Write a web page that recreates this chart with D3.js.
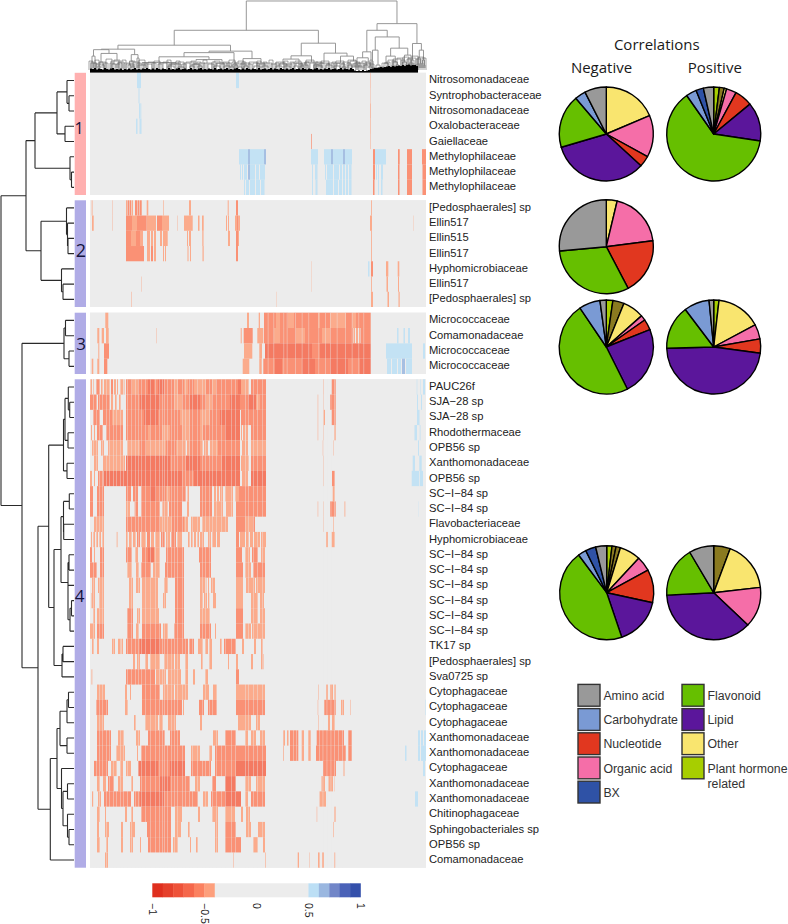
<!DOCTYPE html>
<html><head><meta charset="utf-8">
<script src="https://cdn.jsdelivr.net/npm/d3@7"></script>
<style>html,body{margin:0;background:#fff}svg{display:block}</style>
</head><body><div id="c"></div>
<script>
// correlation levels
const a=-.45,b=-.55,c=-.65,d=-.65,p=.55,q=.65;

const rowLabels1=["Nitrosomonadaceae","Syntrophobacteraceae","Nitrosomonadaceae","Oxalobacteraceae","Gaiellaceae","Methylophilaceae","Methylophilaceae","Methylophilaceae"];
const rowLabels2=["[Pedosphaerales] sp","Ellin517","Ellin515","Ellin517","Hyphomicrobiaceae","Ellin517","[Pedosphaerales] sp"];
const rowLabels3=["Micrococcaceae","Comamonadaceae","Micrococcaceae","Micrococcaceae"];
const rowLabels4=["PAUC26f","SJA\u221228 sp","SJA\u221228 sp","Rhodothermaceae","OPB56 sp","Xanthomonadaceae","OPB56 sp","SC\u2212I\u221284 sp","SC\u2212I\u221284 sp","Flavobacteriaceae","Hyphomicrobiaceae","SC\u2212I\u221284 sp","SC\u2212I\u221284 sp","SC\u2212I\u221284 sp","SC\u2212I\u221284 sp","SC\u2212I\u221284 sp","SC\u2212I\u221284 sp","TK17 sp","[Pedosphaerales] sp","Sva0725 sp","Cytophagaceae","Cytophagaceae","Cytophagaceae","Xanthomonadaceae","Xanthomonadaceae","Cytophagaceae","Xanthomonadaceae","Xanthomonadaceae","Chitinophagaceae","Sphingobacteriales sp","OPB56 sp","Comamonadaceae"];

// each row: runs of columns [from, to, correlation]
const heat1=[
[[47,51,p],[146,149,p],[280,280.5,a]],
[[48.5,49.5,p],[280,280.4,a]],
[[49,50,p],[50.3,51.3,p],[280,280.7,a]],
[[46,47.5,p],[49.5,51.5,p],[280,280.6,a]],
[[221,221.7,b],[280,280.5,a]],
[[149,158,p],[158,160,q],[160,174,p],[174,176,q],[221,228,p],[234,241,p],[241,243,q],[243,253,p],[253,255,q],[255,262,p],[283,285,b],[285,296,p],[308,309.7,b],[317,322,b],[332,336,b]],
[[150,151,p],[152,153,p],[154,157,p],[158,160,q],[160,165,p],[166,169,p],[170,175,p],[222,223,p],[225,227.5,p],[235,236,p],[237,241,p],[241,243,p],[244,249,p],[250,252,p],[253,255,p],[256,258,p],[259,261.5,p],[283,285,b],[286,287,p],[288,289,p],[291,293,p],[308,309.5,b],[317,322,b],[332.5,336,b]],
[[154,155,p],[156,159,p],[160,165,p],[166,170,p],[171,174.5,p],[222,223,p],[225.5,227.5,p],[236,241,p],[241,243,p],[244,248,p],[249,252,p],[253,255,p],[256,258,p],[259,261.5,p],[283,284.5,b],[288,289,p],[291,292.5,p],[308,309.5,b],[317,322,b],[332.5,336,b]]
];
const heat2=[
[[1.7,2.5,a],[22.3,22.7,a],[36,37,a],[37.5,39,b],[39.5,41,b],[41.5,43,a],[45,47,b],[47.5,49,b],[49.5,51.7,b],[56.7,58.3,a],[73,73.6,a],[99,101,a],[137.7,138.7,a],[146,148,b],[281,281.8,a]],
[[2,3.7,a],[22.3,22.7,a],[36,42,b],[42,47,a],[47,56.7,b],[57,66,a],[67,72,b],[72,79,a],[87,87.4,a],[94,102.7,a],[108,109.5,a],[112,113.7,a],[136,137,a],[138,139,a],[145,147,a],[147,148.5,b],[148.5,150,a],[280,282,a],[323,323.3,a]],
[[36,41,b],[41,46,a],[46,50,b],[50,53,a],[57,60,a],[61,63,a],[64,66,a],[70,72,a],[73,77.7,a],[97,98,a],[99,101,a],[112.3,113.5,a],[138,140,a],[146,148,b],[148,149,a],[281,281.8,a]],
[[36,45,b],[45,54,b],[57,60,a],[61,63,b],[64,66,a],[73,74,a],[75,76,a],[97.5,98.5,a],[100,101,a],[112.5,113.7,a],[146,148,b],[281,281.8,a]],
[[278,279.5,.51],[281,283,b],[296,298.3,a],[307.7,309.3,a],[221,221.3,a]],
[[51,51.4,a],[221,221.3,a],[281.2,282,a],[296.5,298,a],[308,309,a]],
[[41,41.5,a],[186,186.3,a],[281,283,a],[297.5,299,a],[308.5,309.7,a]]
];
const heat3=[
[[15.3,18.3,a],[157,159,a],[168.7,170,a],[174,186,b],[186,190,a],[190,198,b],[198,204,a],[204,228,b],[228,230,a],[230,240,b],[240,256,a],[256,262,b],[262,266,a],[266,280.7,b]],
[[7.3,9.3,a],[11.7,14,a],[16,18.7,a],[66,66.4,a],[150.7,151.7,a],[153.7,162.7,b],[167.3,173.3,a],[174,184,b],[184,190,a],[190,206,b],[206,215,a],[215,232,b],[232,240,a],[240,263,b],[263.5,265,a],[266,268,a],[269,270,a],[270.5,280.7,b],[307,308.5,p],[313.5,315,p],[318,320,p]],
[[8.3,9.3,a],[14,19,b],[154,162.3,a],[169.3,172,a],[175,190,c],[190,200,d],[200,212,c],[212,222,c],[222,230,b],[230,245,c],[245,252,d],[252,262,c],[262,268,d],[268,280.7,c],[296,322,p],[333,335,p]],
[[1.7,3.3,a],[7.3,9.3,a],[14,17.3,b],[152.7,159.3,a],[169.3,171.7,a],[173.3,185,b],[185,192,c],[192,212,b],[212,225,c],[225,240,b],[240,258,c],[258,270,b],[270,280.7,c],[297,301,p],[302,307,p],[308,311,p],[312,315,q],[316,322,p]]
];
const heat4=[
[[.5,2,a],[3,4,a],[6,10,b],[11,13,a],[14,20,a],[21,23,b],[24,26,a],[27,28,a],[30,33,a],[33.5,34.5,a],[36,42,b],[42,48,a],[48,52,b],[52,58,b],[58,64,c],[64,68,b],[68,74,c],[74,78,b],[78,84,b],[84,88,a],[88,94,b],[94,98,a],[98,104,b],[104,110,a],[110,116,a],[116,122,b],[122,126,a],[126,132,b],[132,140,b],[140,148,b],[148,151,c],[151,159,a],[161,176,b],[233,233.5,a],[241.7,245.7,b],[326.7,327.3,p],[330,330.5,p],[333,335,p]],
[[0,7,b],[8,20,b],[21,23,a],[25,27,a],[29,31,a],[36,44,b],[44,50,b],[50,70,c],[70,76,b],[76,84,b],[84,92,a],[92,100,b],[100,110,c],[110,116,b],[116,122,a],[122,130,b],[130,140,b],[140,150,c],[150,158,b],[158,166,c],[166,170,a],[170,176,b],[227.7,228.2,a],[233,233.4,a],[240,245.7,b],[327,328,p],[331,332,p]],
[[3,10,b],[13,22,b],[22,33,a],[36,54,b],[54,68,c],[68,80,b],[80,90,b],[90,100,a],[100,110,b],[110,120,a],[120,130,b],[130,150,c],[151,160,b],[160,176,b],[227.7,228.2,a],[233.5,235,a],[241.7,245.7,b],[327,329.5,p]],
[[1,2,a],[4,5,a],[7,13,b],[16,33,b],[36,46,b],[46,58,b],[58,60,a],[60,72,b],[72,80,a],[80,92,b],[92,100,a],[100,110,b],[110,113,a],[113,120,b],[120,135,b],[135,150,c],[151,152,a],[153,155,a],[155.5,158,a],[161,176,b],[227.7,228.2,a],[233,233.4,a],[244,245.7,a],[324.5,327,p],[329.7,330.5,p]],
[[2,8,a],[11,14,a],[18,33,a],[37,50,a],[50,56,b],[56,76,a],[76,86,b],[86,92,a],[92,96,a],[97,100,a],[100,110,b],[110,113,a],[114,118,a],[120,128,a],[128,150,b],[152,155,a],[155.5,158,a],[161,176,a],[232.7,233.2,a],[243,243.4,a],[328,329,p]],
[[4,8,a],[13,35,a],[36,44,c],[44,58,c],[58,66,d],[66,80,c],[80,96,b],[96,110,c],[110,122,b],[122,132,b],[132,150,c],[151,159,a],[161,176,b],[233,233.4,a],[322.7,325,p],[329.3,331.7,p]],
[[0,2,a],[4,5,a],[8,13,b],[13.5,20,c],[20,38,c],[38,46,c],[46,52,d],[52,64,d],[64,78,c],[78,92,c],[92,104,b],[104,116,c],[116,128,c],[128,138,c],[138,150,d],[152,158,a],[161,176,c],[233,233.4,a],[242,245,b],[321.7,329.3,p],[330,333,p]],
[[0,3,b],[7,14,b],[36,41,b],[43,48,b],[51,60,b],[60,66,c],[66,70,b],[70,76,b],[76,80,a],[80,96,b],[97.5,99,a],[110,116,b],[116,122,b],[124,126,a],[127,129,a],[130,133,a],[135,143,a],[145,149,a],[149,155,b],[155,176,b],[242.7,245,a]],
[[0,3,b],[7,14,b],[36,40,a],[44.7,48,b],[51,70,b],[72,78,a],[79,92,b],[97,99,a],[110,122,b],[124,133,a],[136,143,a],[146,176,b],[227.7,228.2,a],[233,233.4,a],[240,245.7,b],[254.5,255.3,a],[328,328.3,.51]],
[[4,14,a],[36,50,b],[50,70,b],[70,82,a],[82,94,b],[94,98,a],[101,110,a],[112,138,a],[146,155,b],[155,163,a],[163,165,b],[233,233.4,a],[243,243.6,a]],
[[1,2,a],[3,5,a],[6,8,a],[9,11,a],[12,14,a],[26.5,27.5,a],[36,38,a],[39,42,a],[43,46,a],[47,50,b],[51,56,a],[57,60,b],[61,64,a],[65,70,a],[71,75,b],[76,80,a],[81,86,b],[87,92,a],[98,100,a],[101,103,a],[104,106,a],[107,109,a],[110,114,a],[118,121,a],[122,126,a],[127,130,a],[146,149,b],[150,155,a],[156,159,a],[160,163,a],[164,170,a],[171,176,a],[236,238,a],[241.7,245,a]],
[[0,2,b],[4,5,a],[10,14,b],[36,42,b],[45,48,a],[52,58,b],[58,64,c],[64,70,a],[76,84,b],[84,94,b],[109,121,b],[146,152,b],[155,160,a],[162,168,b],[171,175,a]],
[[0,7,b],[10,14,b],[37,42,a],[46,49,a],[51,61,b],[63,70,a],[75,94,b],[110,121,b],[146,153,b],[155,161,a],[163,175,b]],
[[2,5,a],[8,14,a],[39,43,a],[46,50,a],[52,68,a],[74,78,a],[85,94,b],[110,115,a],[115.5,116.5,a],[118,119,a],[121,125,a],[146,153,a],[156,165,a],[166,175,a]],
[[1.5,5,a],[9,14,a],[39,43,a],[52,68,a],[73,76,a],[85,94,b],[110,113,a],[114,117,a],[118,119.5,a],[123,126,a],[146,153,a],[161,168,a],[170,174,a]],
[[3,5,a],[7,14,a],[37,43,b],[47,50,a],[52,69,a],[85,94,b],[110,120,a],[146,153,b],[161,168,a],[170,175,a]],
[[0,5,a],[7,14,b],[37,43,b],[46,49,a],[52,71,b],[73,78,a],[84,94,b],[110,121,b],[125,126,a],[146,153,b],[155,161,a],[162,175,a]],
[[2,4,a],[7,9,a],[22,25,a],[28,31,a],[31.5,33,a],[36,50,b],[50,70,c],[70,90,b],[90,98,b],[99,104,b],[108,113,a],[115,118,a],[119,122,a],[130,132,a],[134,146,b],[152,154,a],[164,166,a],[171,173,a]],
[[43,45,a],[47,50,a],[55,58,a],[60,70,a],[74,84,a],[85,90,a],[95,98,a],[111,113,a],[119,122,a],[138,139,a],[146,148,a],[161,163,a],[171,173.5,a]],
[[1.5,2.3,a],[36,48,b],[48,65,b],[66,76,a],[78,91,a],[95,98,a],[103,105,a],[115,118,a],[146,149,b]],
[[7,15,a],[35,37,a],[40,41,a],[52,70,b],[73,84,a],[85,98,a],[113,119,a],[123,127,a],[146,175,a],[228,228.5,a],[236,238,a],[240,243,a],[244,245.7,a]],
[[6,18,b],[35,38,a],[52,92,b],[93,94,a],[109,114,b],[118,127,b],[146,175,b],[227.7,228.2,a],[234.3,245.7,b],[251,254,a],[260,260.5,a],[335,335.5,p]],
[[7,14,a],[44,46,a],[55,68,a],[69,73,a],[78,86,a],[110,112,a],[148,161,a],[166,170,a],[228,228.5,a],[238,240,a],[242,245,a]],
[[7,21,b],[28,34,a],[46,50,a],[58,75,b],[80,90,b],[123,128,a],[135,146,b],[155,158,a],[161,166,a],[170,175,a],[193.3,195,a],[197,198.5,a],[200,208.3,b],[211.7,214,a],[218.3,220.7,a],[226.7,254,b],[258.3,261.7,b],[328,330,p],[331,333,p],[334,336,p]],
[[7,21,b],[26,35,a],[47,48,a],[51,95,b],[101,110,a],[119,122,a],[125,144,b],[144,176,b],[193.3,194,a],[200,208.3,b],[211.7,214,a],[218.3,220.7,a],[226,255.7,b],[258.3,261.7,b],[315,316.5,p],[328,330,p],[331,336,p]],
[[4,18,b],[21,27,a],[30,33,a],[36,41,a],[48,68,c],[68,80,b],[80,95,c],[101,121,b],[125,146,b],[146,176,c],[233,246,b],[253.5,254.5,a],[333,335,p]],
[[7,10,a],[13,16,a],[18,24,b],[28,33,a],[41,43,a],[50,70,b],[70,80,c],[80,100,b],[105,110,a],[122,126,b],[135,146,c],[155,161,a],[166,175,a],[231.5,235,a],[238.5,243,a],[244,244.6,a]],
[[2,3.3,a],[8,11,a],[14,41,b],[44,50,b],[50,74,c],[74,108,b],[113,118,a],[121,135,b],[135,151,c],[155,158,a],[161,175,b],[229.3,236,a],[325,328,p]],
[[7,10,a],[15,16,a],[35,37,a],[41,43,a],[51,81,b],[85,92,a],[108,110,a],[122,128,a],[135,145,a],[151,153,a],[156,160,a],[226.7,227.2,a],[244,245.6,a]],
[[7,9,a],[15,19,a],[31,33,a],[40,45,a],[57,81,b],[85,91,a],[98,100,a],[125,128,a],[135,146,b],[156,161,a],[168,175,a],[243,243.6,a]],
[[7,10,a],[16,18,a],[31,33,a],[40,43,a],[50,51,a],[58,81,b],[83,88,a],[100,101,a],[106,108,a],[125,128,a],[135,151,b],[163,168,a],[173,175,a]],
[[15,18,a],[143,143.5,a],[175,175.6,a],[207.7,209,a],[219,219.4,a],[228,230,a],[232,234,a],[244,245.2,a]]
];
// columns that read paler through a whole block of rows
const paleCols3=[177.7,183.3,193.3,196.7,205,211.7,218.3,228.3,235,240,246.7,255,261.7,268.3,273.3];
const paleCols4=[3,6,9,12,16,19,23,26,30,33,37,41,45,48,51,55,60,65,69,72,74,77,81,84,87,92,95,99,102,107,112,115,119,122,126,131,135,141,145,155,158,163,167,172,203,206,229,232.5,236.5,240.5,244,248,252];

const colourValues=[-1,-.9,-.8,-.7,-.6,-.5,-.4,.5,.6,.7,.8,.9,1];
const colourRamp=["#df2f1e","#e5402b","#ee5239","#f5674b","#fb8160","#fd9f7c","#ececec","#bcdff5","#9ab7e0","#7186c8","#4a62b8","#3450ab"];
const keyTicks=[-1,-.5,0,.5,1];

// dendrogram over the rows: [merge height, child, child]; a number is a row index
const rowTree=[73,
 [48,
  [39,
   [17,[7,0,[5,1,2]],[9,3,4]],
   [4,5,[2.5,6,7]]],
  [33,
   [7.5,8,[6.5,9,[6,10,11]]],
   [12.5,12,[11,13,14]]]],
 [52,
  [10,[8.5,15,16],[5,17,18]],
  [36,
   [25.3,
    [10.5,[9,[5.7,19,[4.3,20,21]],[6,22,23]],[7,24,25]],
    [20,
     [13,[10.5,[4.7,26,27],[10.3,28,29]],[6,[5,30,31],[6,32,[4,[2.5,33,34],35]]]],
     [12,[11,36,37],38]]],
   [23.7,
    [17,
     [14,[7,[5.5,39,40],41],[7,42,43]],
     [12.5,44,[11,[6.5,45,46],[6.5,47,[5,48,49]]]]],
    50]]]];

// dendrogram over the columns: [merge height, child, child]; a number is a column
const colTree=[71.5,
 [42,
  [27,
   [23,
    [22.5,
     [16,[10,1,3],[9,4,6]],
     [18.7,[10,[6,8,10],[7,12,14]],[12,[8,22,26],[9,28,32]]]],
    [17.5,[11,[7,38,41],[6,42,44]],[14,47,49]]],
   [21,
    [19.5,
     [15.3,[9.5,[7,48,56],[8,[6,78,84],[5,88,94]]],[12.5,[8,[6,100,104],[6,108,112]],[9,[6,124,130],[6,134,140]]]],
     [10,[6,141,143],[7,145,147]]],
    [13.5,[8,[5,148,152],[6,154,158]],[9,[6,164,170],[6,172,178]]]]],
  [29,
   [16.3,
    [13,[8,[6,186,192],[6,194,200]],[9,[6,204,208],[6,210,214]]],
    [10,[7,212,218],[7,224,232]]],
   [19,
    [9,[6,226,232],[7,236,242]],
    [16,[9,[6,244,250],[5,252,256]],[11,[7,258,262],[6,264,270]]]]]],
 [48.7,
  [42,
   [20.3,[14.3,[9,[6,262,266],[6,268,272]],[10,[7,274,278],[6,279,282]]],[12,280,282]],
   [35.3,
    [22,[11,282,283],[7,286,290]],
    [24,
     [16,[9,294,298],[10,[6,301,305],[7,306,309]]],
     [17,[10,[6,311,314],[7,315,318]],[9,319,323]]]]],
  [28.7,
   [12,[7,320,322],[8,323,325]],
   [22,[14,[8,327,329],[9,330,331]],[12,[9,332,333],[7,334,335]]]]]];

// height of the dense leaf mass under the column dendrogram, every 2 columns
const leafMass=[3.5,3,4,2.5,3.5,3,2.5,4,3,2.5,3.5,4,2.5,3,2.5,3.5,2,3,2.5,3.5,2.5,3,4,2.5,3,2.5,3.5,3,4,3,2.5,3.5,2.5,4,3,2.5,3.5,3,2.5,4,2.5,3,2.5,3.5,4,2.5,3,3.5,2.5,3,4,2.5,3,2.5,3.5,4,2.5,3,2.5,3.5,3,2.5,4,2.5,3,3.5,2.5,3,4,2.5,3,2.5,3.5,4,3,2.5,3.5,2.5,4,3,2.5,3.5,3,2.5,4,2.5,3,3.5,2.5,3,4,2.5,3.5,3,2.5,4,3,2.5,3.5,2.5,3,4,2.5,3,3.5,2.5,4,3,2.5,3.5,3,2.5,3.5,4,2.5,3,2.5,3.5,3,4,2.5,3,3.5,2.5,3,4,2.5,3.5,3,2.5,4,3,1.5,1,1.5,1,2,1,1.5,2,3,3.5,4,4,4.5,5,4.5,5,5.5,6,5,6,5.5,6,6.5,6,7,6,7,7.5,6.5,7,7,6];
// small bracket height and width, every 3 columns
const twigH=[11,9,12,8,10,9,13,9,11,8,10,12,9,8,11,10,9,12,9,8,10,9,11,8,9,10,12,8,9,11,10,8,9,10,11,8,10,9,12,9,8,10,11,9,8,10,9,12,8,9,11,10,9,8,10,9,11,8,10,9,12,8,9,10,9,11,8,10,9,11,8,9,10,12,9,8,10,9,11,8,9,10,9,11,8,10,9,12,8,10,9,11,9,8,4,4,4,5,9,10,12,11,13,14,12,15,13,14,16,13,15,14];
const twigW=[2,3,2,4,3,2,3,2,4,2,3,2,3,4,2,3,2,3,2,4,3,2,3,2,4,3,2,3,4,2,3,2,3,4,2,3,2,3,2,4,3,2,3,4,2,3,2,3,2,4,3,2,3,2,4,3,2,3,2,4,2,3,2,4,3,2,3,2,4,3,2,3,2,4,3,2,3,2,4,2,3,2,3,4,2,3,2,4,3,2,3,2,3,4,2,2,2,2,3,2,3,2,4,3,2,3,2,4,3,2,3,2];

const pieNames=["Amino acid","Carbohydrate","Nucleotide","Organic acid","BX","Flavonoid","Lipid","Other","Plant hormone related","Unassigned"];
const pieColours=["#999999","#7a9ad4","#e1371f","#f56ea8","#2f52a6","#66bf00","#5b169b","#f9e56f","#a7ce00","#8a7a20"];
// slice order clockwise from twelve o'clock, sizes in degrees of the circle
const pie1NegCats=[7,3,2,6,5,1,0],      pie1NegVals=[66.9,52,13.7,121,66,13.5,26.9];
const pie1PosCats=[8,9,7,3,2,6,5,1,4,0],pie1PosVals=[7,6,3,12.4,22.1,48,226.5,13.1,9.2,12.7];
const pie2NegCats=[7,3,2,5,0],          pie2NegVals=[13.4,69.3,69.6,112.4,95.3];
const pie3NegCats=[8,9,7,3,2,6,5,1,0],  pie3NegVals=[8.1,13.9,26.5,6.5,13.3,85.1,172.6,26.2,7.8];
const pie3PosCats=[8,7,3,2,6,5,1,0],    pie3PosVals=[6.5,55.3,18.2,17.7,170.7,54.5,31.4,5.7];
const pie4NegCats=[8,9,9,7,3,2,6,5,1,4,0],pie4NegVals=[6.5,5,5.5,26,18.4,41,58.9,162.1,10.2,12.8,13.6];
const pie4PosCats=[9,7,3,6,5,0],        pie4PosVals=[20.5,63,50,133.5,62.4,30.6];

const legendCol1=[0,1,2,3,4];
const legendCol2=[5,6,7,8];
const headers=["Correlations","Negative","Positive"];

const W=788,H=924;
const svg=d3.select("#c").append("svg").attr("width",W).attr("height",H);
const uiFont="'Open Sans',sans-serif", labelFont="'Liberation Sans',sans-serif";
const defs=svg.append("defs");
defs.append("filter").attr("id","soft").attr("x","0").attr("y","0").attr("width","1").attr("height","1")
 .append("feGaussianBlur").attr("stdDeviation","0.55 0.35");

const x=d3.scaleLinear().domain([0,336]).range([90,426]);
const colour=d3.scaleThreshold().domain(colourValues.slice(1,-1)).range(colourRamp);

const groups=[
 {labels:rowLabels1,heat:heat1,pale:[],top:72.8,bottom:195,bar:"#ffb0b0",name:"1",nx:79,ny:134,fs:16},
 {labels:rowLabels2,heat:heat2,pale:[],top:200.3,bottom:307,bar:"#b0ace6",name:"2",nx:81,ny:257,fs:18},
 {labels:rowLabels3,heat:heat3,pale:paleCols3,top:312.7,bottom:374,bar:"#b0ace6",name:"3",nx:81,ny:350,fs:17},
 {labels:rowLabels4,heat:heat4,pale:paleCols4,top:379.3,bottom:867.7,bar:"#b0ace6",name:"4",nx:79.5,ny:602,fs:17}
];
const rowMid=[];
groups.forEach(g=>{
 const y=d3.scaleBand().domain(d3.range(g.labels.length)).range([g.top,g.bottom]);
 svg.append("rect").attr("x",x(0)).attr("width",x(336)-x(0)).attr("y",g.top).attr("height",g.bottom-g.top).attr("fill",colourRamp[6]);
 const s=svg.append("g").attr("filter","url(#soft)");
 s.append("rect").attr("x",x(0)).attr("width",x(336)-x(0)).attr("y",g.top).attr("height",g.bottom-g.top).attr("fill",colourRamp[6]);
 g.heat.forEach((runs,i)=>{
  s.append("g").selectAll("rect").data(runs).join("rect")
   .attr("x",r=>x(r[0])).attr("width",r=>x(r[1])-x(r[0])).attr("y",y(i)).attr("height",y.bandwidth())
   .attr("fill",r=>colour(r[2])).attr("fill-opacity",.86);
 });
 s.append("g").selectAll("rect").data(g.pale).join("rect")
  .attr("x",v=>x(v)).attr("width",.9).attr("y",g.top).attr("height",g.bottom-g.top)
  .attr("fill",colourRamp[6]).attr("opacity",.45);
 svg.append("rect").attr("x",74.7).attr("width",11.3).attr("y",g.top).attr("height",g.bottom-g.top).attr("fill",g.bar);
 svg.append("text").attr("x",g.nx).attr("y",g.ny).attr("text-anchor","middle").attr("font-family",uiFont).attr("font-size",g.fs).attr("fill","#14143c").text(g.name);
 svg.append("g").selectAll("text").data(g.labels).join("text")
  .attr("x",429).attr("y",(d,i)=>y(i)+y.bandwidth()/2+3).attr("font-family",labelFont).attr("font-size",11.2).attr("fill","#222").text(d=>d);
 g.labels.forEach((l,i)=>rowMid.push(y(i)+y.bandwidth()/2));
});

// dendrogram helper
function toHier(t){return d3.hierarchy(t,n=>Array.isArray(n)?n.slice(1):null);}
function place(node,leafPos){
 if(!node.children){node.pos=leafPos(node.data);node.h=0;return;}
 node.children.forEach(ch=>place(ch,leafPos));
 node.pos=d3.mean(node.children,ch=>ch.pos);
 node.h=node.data[0];
}
// row dendrogram
const hx=d3.scaleLinear().domain([0,73]).range([74,1]);
const rt=toHier(rowTree); place(rt,i=>rowMid[i]);
const rp=d3.path();
rt.each(n=>{ if(n.children){
  const ys=n.children.map(ch=>ch.pos);
  rp.moveTo(hx(n.h),d3.min(ys)); rp.lineTo(hx(n.h),d3.max(ys));
  n.children.forEach(ch=>{rp.moveTo(hx(n.h),ch.pos); rp.lineTo(hx(ch.h),ch.pos);});
}});
svg.append("path").attr("d",rp.toString()).attr("fill","none").attr("stroke","#2a2a2a").attr("stroke-width",1.1);

// column dendrogram
const hy=d3.scaleLinear().domain([0,72]).range([72,.5]);
const ct=toHier(colTree); place(ct,v=>x(v));
const cp=d3.path();
ct.each(n=>{ if(n.children){
  const xs=n.children.map(ch=>ch.pos);
  cp.moveTo(d3.min(xs),hy(n.h)); cp.lineTo(d3.max(xs),hy(n.h));
  n.children.forEach(ch=>{cp.moveTo(ch.pos,hy(n.h)); cp.lineTo(ch.pos,hy(ch.children?ch.h:4));});
}});
svg.append("path").attr("d",cp.toString()).attr("fill","none").attr("stroke","#8c8c8c").attr("stroke-width",.9);
const tp=d3.path();
twigH.forEach((h,i)=>{const xm=x(i*3+1),w=twigW[i];
 tp.moveTo(xm-w,hy(2));tp.lineTo(xm-w,hy(h));tp.lineTo(xm+w,hy(h));tp.lineTo(xm+w,hy(2));});
svg.append("path").attr("d",tp.toString()).attr("fill","none").attr("stroke","#6a6a6a").attr("stroke-width",.6);
svg.append("g").selectAll("rect").data(leafMass).join("rect")
 .attr("x",(d,i)=>x(i*2)).attr("width",2.02).attr("y",v=>hy(v)).attr("height",v=>hy(0)-hy(v)+.6).attr("fill","#000");

// colour key
const kx=d3.scaleLinear().domain([-1,1]).range([152.3,360.5]);
const keyG=svg.append("g");
const keyBins=d3.pairs(colourValues).map(([lo,hi],i)=>({lo,hi,c:colourRamp[i]}));
keyG.selectAll("rect").data(keyBins).join("rect")
 .attr("x",k=>kx(k.lo)).attr("width",k=>kx(k.hi)-kx(k.lo)+.3).attr("y",883.3).attr("height",14).attr("fill",k=>k.c);
keyG.selectAll("text").data(keyTicks).join("text")
 .attr("transform",t=>`translate(${kx(t)-3.6},903) rotate(90)`)
 .attr("font-family",labelFont).attr("font-size",10.5).attr("fill","#222")
 .text(t=>d3.format("")(t).replace("-","\u2212"));

// pies
const pies=[
 {cx:606.3,cy:134,cats:pie1NegCats,vals:pie1NegVals},
 {cx:713.7,cy:134,cats:pie1PosCats,vals:pie1PosVals},
 {cx:606.3,cy:246.7,cats:pie2NegCats,vals:pie2NegVals},
 {cx:606.3,cy:347,cats:pie3NegCats,vals:pie3NegVals},
 {cx:713.7,cy:347,cats:pie3PosCats,vals:pie3PosVals},
 {cx:606.7,cy:592.7,cats:pie4NegCats,vals:pie4NegVals},
 {cx:713.7,cy:592.7,cats:pie4PosCats,vals:pie4PosVals}
];
const arc=d3.arc().innerRadius(0).outerRadius(47);
pies.forEach(pd=>{
 const layout=d3.pie().sort(null).value(i=>pd.vals[i])(d3.range(pd.vals.length));
 svg.append("g").attr("transform",`translate(${pd.cx},${pd.cy})`).selectAll("path").data(layout).join("path")
  .attr("d",arc).attr("fill",s=>pieColours[pd.cats[s.data]]).attr("stroke","#000").attr("stroke-width",1.4).attr("stroke-linejoin","round");
});

// legend
function legendColumn(cats,sx,tx){
 cats.forEach((cat,i)=>{
  const yy=684.4+i*24.2;
  svg.append("rect").attr("x",sx).attr("y",yy).attr("width",22).attr("height",21.8).attr("fill",pieColours[cat]).attr("stroke","#333").attr("stroke-width",1.4);
  const parts=pieNames[cat]==="Plant hormone related"?["Plant hormone","related"]:[pieNames[cat]];
  parts.forEach((t,j)=>svg.append("text").attr("x",tx).attr("y",yy+15.6+j*15).attr("font-family",labelFont).attr("font-size",12.3).attr("fill","#333").text(t));
 });
}
legendColumn(legendCol1,578,603.4);
legendColumn(legendCol2,682,707.5);

// headers
svg.selectAll("text.h").data(headers).join("text").attr("class","h")
 .attr("x",(d,i)=>[656.8,601.5,714.8][i]).attr("y",(d,i)=>[50,73,73][i])
 .attr("text-anchor","middle").attr("font-family",uiFont).attr("font-size",15).attr("fill","#1a1a1a").text(d=>d);
</script></body></html>
